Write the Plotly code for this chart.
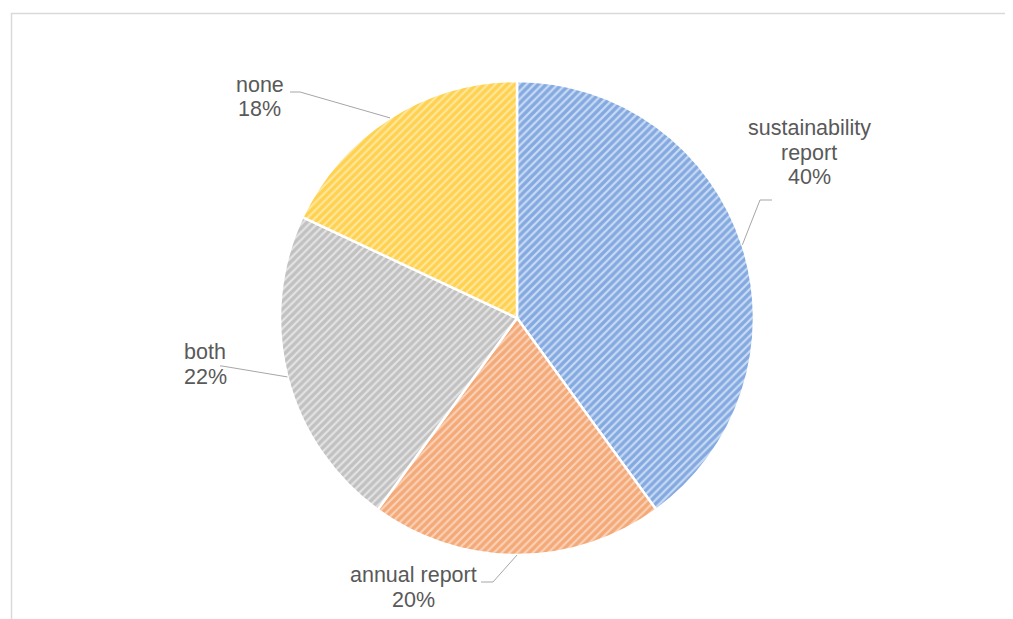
import math
import plotly.graph_objects as go

# ---- data ----
categories = ["sustainability report", "annual report", "both", "none"]
values = [40, 20, 22, 18]
label_lines = [["sustainability", "report", "40%"], ["annual report", "20%"], ["both", "22%"], ["none", "18%"]]
fg_colors = ["#3F78CF", "#EE7F36", "#A0A0A0", "#FFBC00"]
bg_colors = ["#C9DBF3", "#FAD2B8", "#E3E3E3", "#FFE79E"]

OFF = 8  # page body margin
W, H = 1013 - OFF, 619 - OFF
CX, CY, R = 517, 318, 237

def px(x):
    return (x - OFF) / W

def py(y):
    return 1 - (y - OFF) / H

fig = go.Figure(go.Pie(
    labels=categories,
    values=values,
    sort=False,
    direction="clockwise",
    rotation=0,
    textinfo="none",
    hoverinfo="label+percent",
    marker=dict(
        colors=bg_colors,
        line=dict(color="white", width=2.5),
        pattern=dict(shape="/", fillmode="overlay", fgcolor=fg_colors,
                     bgcolor=bg_colors, size=5.5, solidity=0.6),
    ),
    domain=dict(x=[px(CX - R), px(CX + R)], y=[py(CY + R), py(CY - R)]),
    showlegend=False,
))

# label placement (layout): line centres in pixels, elbow and end of leader line
label_pos = [
    dict(x=809, ys=[128, 153, 177], elbow=(760, 200), end=(772, 200)),
    dict(x=413, ys=[575, 600], elbow=(493, 582), end=(481, 582)),
    dict(x=205, ys=[352, 377], elbow=(222, 366), end=(220, 366)),
    dict(x=260, ys=[85, 109], elbow=(300, 92), end=(290, 92)),
]

total = sum(values)
cum = 0
annotations = []
shapes = []
for v, lines, pos in zip(values, label_lines, label_pos):
    mid = (cum + v / 2) / total
    cum += v
    ang = math.radians(90 - 360 * mid)
    ex = CX + R * math.cos(ang)
    ey = CY - R * math.sin(ang)
    path = "M {} {} L {} {} L {} {}".format(px(ex), py(ey), px(pos["elbow"][0]), py(pos["elbow"][1]),
                                              px(pos["end"][0]), py(pos["end"][1]))
    shapes.append(dict(type="path", xref="paper", yref="paper", path=path,
                       line=dict(color="#A6A6A6", width=1)))
    for txt, yy in zip(lines, pos["ys"]):
        annotations.append(dict(text=txt, x=px(pos["x"]), y=py(yy), xref="paper", yref="paper",
                                xanchor="center", yanchor="middle", showarrow=False,
                                font=dict(family="Liberation Sans, Arial", size=21.5, color="#595959")))

# chart frame
shapes.append(dict(type="rect", xref="paper", yref="paper", x0=px(11.5), y0=py(640), x1=px(1030), y1=py(13.5),
                   line=dict(color="#D9D9D9", width=1.5), fillcolor="rgba(0,0,0,0)", layer="below"))

fig.update_layout(
    width=W, height=H,
    margin=dict(l=0, r=0, t=0, b=0),
    paper_bgcolor="white",
    plot_bgcolor="white",
    annotations=annotations,
    shapes=shapes,
)

fig.write_html("out.html")
